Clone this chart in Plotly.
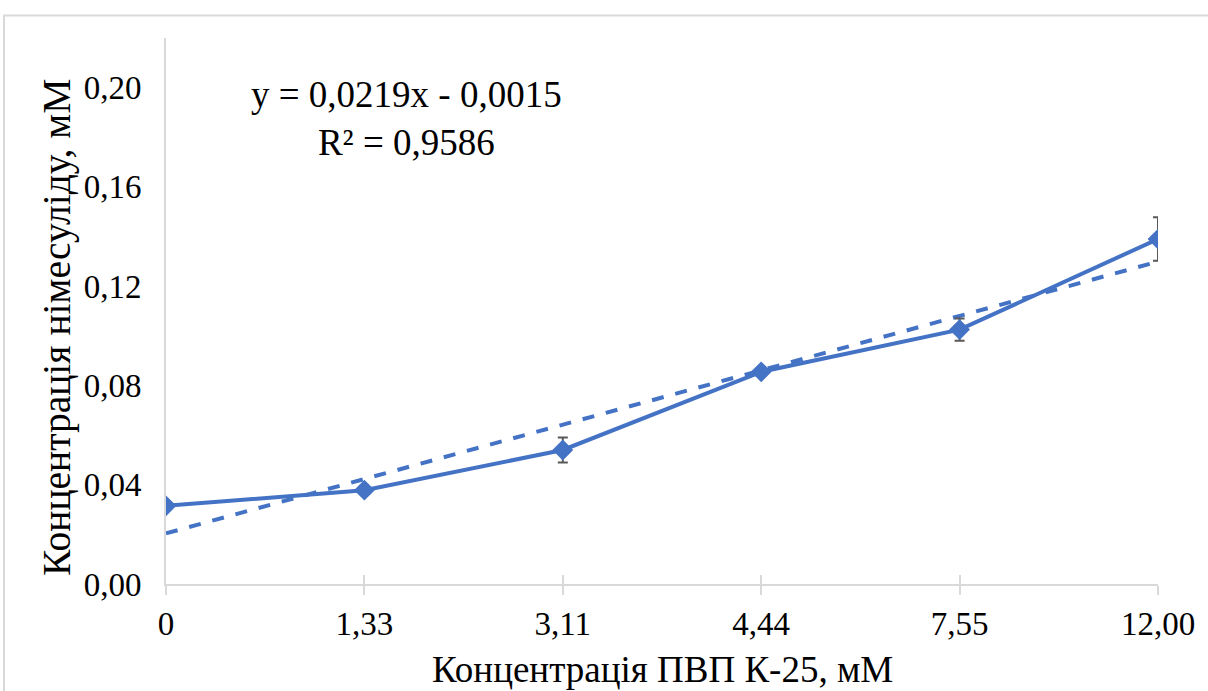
import plotly.graph_objects as go

# ПВП К-25 concentration (category labels) and measured nimesulide concentration
categories = ["0", "1,33", "3,11", "4,44", "7,55", "12,00"]
nimesulide = [0.0315, 0.0378, 0.0540, 0.0855, 0.1025, 0.1390]
errors = [0.0008, 0.0008, 0.0050, 0.0010, 0.0045, 0.0088]

# linear trendline over category index (Excel style)
slope = 0.0219
intercept = -0.0015
eq_text = "y = 0,0219x - 0,0015<br>R² = 0,9586"

y_ticks = [0.00, 0.04, 0.08, 0.12, 0.16, 0.20]
y_tick_text = ["0,00", "0,04", "0,08", "0,12", "0,16", "0,20"]

idx = list(range(1, len(categories) + 1))
trend_x = [idx[0], idx[-1]]
trend_y = [slope * v + intercept for v in trend_x]

BLUE = "#4472C4"
GRID = "#d9d9d9"
FONT = "Times New Roman, Liberation Serif, serif"

fig = go.Figure()

fig.add_trace(go.Scatter(
    x=trend_x, y=trend_y, mode="lines",
    line=dict(color=BLUE, width=4, dash="dash"),
    showlegend=False, hoverinfo="skip",
))

fig.add_trace(go.Scatter(
    x=idx, y=nimesulide, mode="lines+markers",
    line=dict(color=BLUE, width=4),
    marker=dict(symbol="diamond", size=16, color=BLUE),
    error_y=dict(type="data", array=errors, visible=True,
                 color="#595959", thickness=2, width=5),
    showlegend=False,
))

# invisible companion axis giving the inward half of the cross ticks
fig.add_trace(go.Scatter(x=idx, y=nimesulide, xaxis="x2", mode="none",
                         showlegend=False, hoverinfo="skip"))

fig.update_layout(
    width=1208, height=691,
    margin=dict(l=166, r=50, t=38, b=107),
    paper_bgcolor="white", plot_bgcolor="white",
    font=dict(family=FONT, color="black", size=33),
    xaxis=dict(
        range=[1, 6], tickvals=idx, ticktext=categories,
        showgrid=False, zeroline=False, automargin=False,
        showline=True, linecolor=GRID, linewidth=2,
        ticks="outside", ticklen=9, tickwidth=1.5, tickcolor=GRID,
        ticklabelstandoff=0,
        tickfont=dict(size=33, family=FONT),
    ),
    xaxis2=dict(
        range=[1, 6], tickvals=idx, overlaying="x", side="bottom",
        showticklabels=False, showgrid=False, zeroline=False,
        automargin=False,
        ticks="inside", ticklen=9, tickwidth=1.5, tickcolor=GRID,
    ),
    yaxis=dict(
        range=[0, 0.22], tickvals=y_ticks, ticktext=y_tick_text,
        showgrid=False, zeroline=False, automargin=False,
        showline=True, linecolor=GRID, linewidth=2,
        ticks="", ticklabelstandoff=16,
        tickfont=dict(size=33, family=FONT),
    ),
    annotations=[
        dict(
            text=eq_text, x=2.21, y=0.1875, xref="x", yref="y",
            showarrow=False, align="center",
            font=dict(size=37, family=FONT, color="black"),
        ),
        # x-axis title
        dict(
            text="Концентрація ПВП К-25, мМ",
            x=0.5, y=-0.1557, xref="paper", yref="paper",
            xanchor="center", yanchor="middle", showarrow=False,
            font=dict(size=37, family=FONT, color="black"),
        ),
        # y-axis title
        dict(
            text="Концентрація німесуліду, мМ", textangle=-90,
            x=-0.11, y=0.4707, xref="paper", yref="paper",
            xanchor="center", yanchor="middle", showarrow=False,
            font=dict(size=39.5, family=FONT, color="black"),
        ),
    ],
    shapes=[dict(
        type="rect", xref="paper", yref="paper",
        x0=-0.1633, x1=1.2, y0=-0.5, y1=1.041,
        line=dict(color=GRID, width=2), fillcolor="rgba(0,0,0,0)",
        layer="below",
    )],
)

fig.write_html("out.html")
